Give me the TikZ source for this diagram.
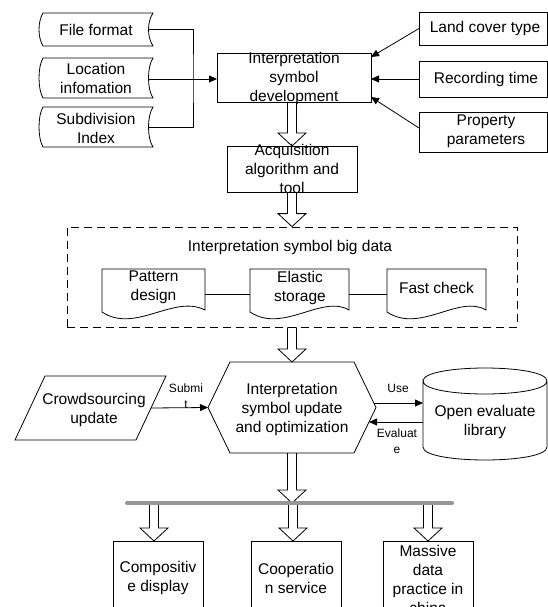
\documentclass[tikz,border=0pt]{standalone}
\usepackage{fontspec}
\setmainfont{Liberation Sans}
\usetikzlibrary{arrows.meta,calc}
\definecolor{barGray}{RGB}{150,150,150}
\newcommand\hollowarrow[2]{\draw[hollowarr] let \p1=#1, \p2=#2 in
  (\x1-4.5pt,\y1) -- (\x1-4.5pt,\y2+13pt) -- (\x1-14pt,\y2+13pt) -- (\x1,\y2)
  -- (\x1+14pt,\y2+13pt) -- (\x1+4.5pt,\y2+13pt) -- (\x1+4.5pt,\y1);}
\newcommand\tapeline[1]{\draw[lw] let \p1=(#1.north west), \p2=(#1.south east) in
  (\x1+4pt,\y1) -- (\x2+4.5pt,\y1)
  .. controls (\x2-1.5pt,\y1-9pt) and (\x2-1.5pt,\y2+9pt) .. (\x2+4.5pt,\y2)
  -- (\x1+4pt,\y2)
  .. controls (\x1-1.33pt,\y2+9pt) and (\x1-1.33pt,\y1-9pt) .. cycle;}
\newcommand\docline[1]{\draw[lw] let \p1=(#1.north west), \p2=(#1.south east) in
  (\x1,\y2) -- (\x1,\y1) -- (\x2,\y1) -- (\x2,\y2+2pt)
  .. controls (\x1+72pt,\y2+18pt) and (\x1+33pt,\y2-22pt) .. (\x1,\y2) -- cycle;}
\begin{document}
\begin{tikzpicture}[x=1pt,y=-1pt,
  lw/.style={line width=0.8pt},
  boxnode/.style={draw,lw,inner sep=0pt,outer sep=0pt},
  ghost/.style={inner sep=0pt,outer sep=0pt},
  txt/.style={inner sep=0pt,align=center,font=\fontsize{15.5}{19}\selectfont},
  small/.style={inner sep=0pt,align=center,font=\fontsize{12}{16}\selectfont},
  arr/.style={lw,-{Triangle[length=8pt,width=7pt]}},
  hollowarr/.style={lw},
  dashbox/.style={draw,lw,dash pattern=on 8pt off 5pt,inner sep=0pt},
  graybar/.style={line width=4pt,draw=barGray,line cap=round}]
\useasboundingbox (0,0) rectangle (548,607);
\clip (0,0) rectangle (548,607);

% left tape shapes
\node[ghost,minimum width=109.5pt,minimum height=33pt] (ff) at (93.75,29.5) {};
\node[ghost,minimum width=109.5pt,minimum height=40pt] (loc) at (93.75,78) {};
\node[ghost,minimum width=109.5pt,minimum height=40pt] (sub) at (93.75,127) {};
\tapeline{ff}\tapeline{loc}\tapeline{sub}
\node[txt] (tff) at (96,30) {File format};
\node[txt] (tloc) at (96,78.5) {Location\\infomation};
\node[txt] (tsub) at (96,128) {Subdivision\\Index};

% top centre box
\node[boxnode,minimum width=154pt,minimum height=49pt] (dev) at (294,77.5) {};
\node[txt] (tdev) at (294,78.5) {Interpretation\\symbol\\development};

% right boxes
\node[boxnode,minimum width=128pt,minimum height=33pt] (lct) at (483,28.5) {};
\node[boxnode,minimum width=128pt,minimum height=36pt] (rec) at (483,79) {};
\node[boxnode,minimum width=128pt,minimum height=40pt] (prop) at (483,132) {};
\node[txt] (tlct) at (485,28.5) {Land cover type};
\node[txt] (trec) at (486,79) {Recording time};
\node[txt] (tprop) at (486,131) {Property\\parameters};

% left connectors
\coordinate (jn) at (193,79);
\draw[lw] (ff.east) -| (jn) |- (sub.east);
\draw[arr] (loc.east |- jn) -- (jn -| dev.west);
% right connectors
\draw[arr] (lct.west) -- ([yshift=-4pt]dev.north east);
\draw[arr] (rec.west) -- (rec.west -| dev.east);
\draw[arr] ([yshift=4pt]prop.west) -- ([yshift=5pt]dev.south east);

% acquisition
\node[boxnode,minimum width=130pt,minimum height=46pt] (acq) at (292,169) {};
\node[txt] (tacq) at (292,169) {Acquisition\\algorithm and\\tool};
\hollowarrow{(acq.north |- dev.south)}{(acq.north)}

% big data dashed box
\node[dashbox,minimum width=450pt,minimum height=100pt] (big) at (292,277) {};
\hollowarrow{(acq.south)}{(acq.south |- big.north)}
\node[txt] (tbig) at (290,247.5) {Interpretation symbol big data};
\node[ghost,minimum width=103pt,minimum height=43pt] (pd) at (153.5,290.5) {};
\node[ghost,minimum width=99pt,minimum height=43pt] (es) at (299.5,290.5) {};
\node[ghost,minimum width=99pt,minimum height=43pt] (fc) at (436.5,290.5) {};
\docline{pd}\docline{es}\docline{fc}
\node[txt] (tpd) at (153.5,287) {Pattern\\design};
\node[txt] (tes) at (300,287.5) {Elastic\\storage};
\node[txt] (tfc) at (436.5,288) {Fast check};
\draw[lw] ([yshift=-3.5pt]pd.east) -- ([yshift=-3.5pt]es.west);
\draw[lw] ([yshift=-3.5pt]es.east) -- ([yshift=-3.5pt]fc.west);

% hexagon
\node[ghost,minimum width=168pt,minimum height=91pt] (hex) at (292,407.5) {};
\draw[lw] let \p1=(hex.north west), \p2=(hex.south east), \p3=(hex.center) in
  (\x1,\y3) -- (\x1+22pt,\y1) -- (\x2-22pt,\y1) -- (\x2,\y3) -- (\x2-22pt,\y2) -- (\x1+22pt,\y2) -- cycle;
\node[txt] (thex) at (292,409) {Interpretation\\symbol update\\and optimization};
\hollowarrow{(big.south -| hex.north)}{(hex.north)}

% crowdsourcing parallelogram
\node[ghost,minimum width=151pt,minimum height=64pt] (crowd) at (90.5,408) {};
\draw[lw] let \p1=(crowd.north west), \p2=(crowd.south east) in
  (\x1+30pt,\y1) -- (\x2,\y1) -- (\x2-30pt,\y2) -- (\x1,\y2) -- cycle;
\node[txt] (tcrowd) at (94,410) {Crowdsourcing\\update};
\coordinate (crowdR) at ([xshift=-15pt]crowd.east);
\draw[arr] (crowdR) -- (hex.west);
\node[small] (lsub) at (186,396) {Submi\\t};

% cylinder
\node[ghost,minimum width=124pt,minimum height=92pt] (cyl) at (485,414) {};
\draw[lw] let \p1=(cyl.north west), \p2=(cyl.south east) in
  (\x1,\y1-13pt) .. controls (\x1,\y1+4.33pt) and (\x2,\y1+4.33pt) .. (\x2,\y1-13pt)
  .. controls (\x2,\y1-30.33pt) and (\x1,\y1-30.33pt) .. (\x1,\y1-13pt)
  -- (\x1,\y2+13pt) .. controls (\x1,\y2-4.33pt) and (\x2,\y2-4.33pt) .. (\x2,\y2+13pt)
  -- (\x2,\y1-13pt);
\node[txt] (tcyl) at (485,421.5) {Open evaluate\\library};
\coordinate (useS) at (373.5,403);
\coordinate (evE) at (369,422);
\draw[arr] (useS) -- (useS -| cyl.west);
\draw[arr] (evE -| cyl.west) -- (evE);
\node[small] (luse) at (398,388) {Use};
\node[small] (leval) at (397,441) {Evaluat\\e};

% bar and bottom boxes
\coordinate (barL) at (127,503);
\coordinate (barR) at (452,503);
\coordinate (a1) at (154,503);
\coordinate (a2) at (293,503);
\coordinate (a3) at (428,503);
\node[boxnode,minimum width=90pt,minimum height=89pt] (cd) at (158,585.5) {};
\node[boxnode,minimum width=90pt,minimum height=89pt] (co) at (296,585.5) {};
\node[boxnode,minimum width=90pt,minimum height=89pt] (mp) at (428,585.5) {};
\hollowarrow{(hex.south)}{(hex.south |- barL)}
\hollowarrow{(a1)}{(a1 |- cd.north)}
\hollowarrow{(a2)}{(a2 |- co.north)}
\hollowarrow{(a3)}{(a3 |- mp.north)}
\draw[graybar] (barL) -- (barR);
\node[txt] (tcd) at (158,578) {Compositiv\\e display};
\node[txt] (tco) at (296,578) {Cooperatio\\n service};
\node[txt] (tmp) at (428,579.5) {Massive\\data\\practice in\\china};
\end{tikzpicture}
\end{document}
